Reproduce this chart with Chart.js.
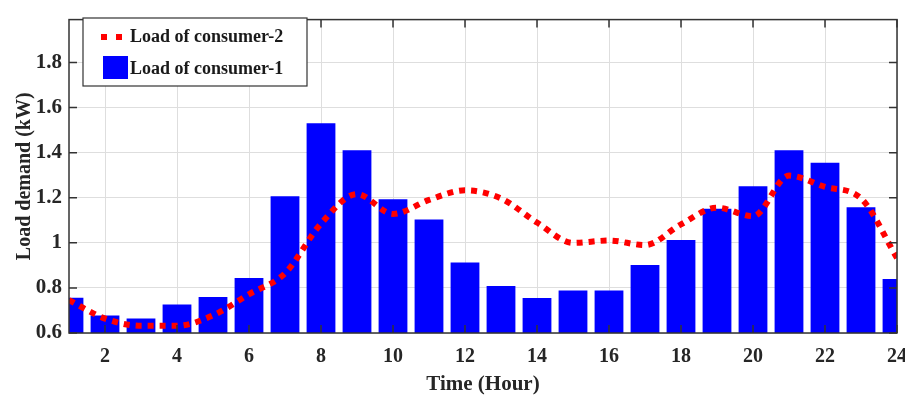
<!DOCTYPE html>
<html>
<head>
<meta charset="utf-8">
<script src="https://cdn.jsdelivr.net/npm/chart.js@4"></script>
<style>
  html, body { margin: 0; padding: 0; background: #fff; }
  #wrap { width: 905px; height: 397px; }
</style>
</head>
<body>
<div id="wrap"><canvas id="loadChart"></canvas></div>
<script>
// hours of the day
const hours = [1, 2, 3, 4, 5, 6, 7, 8, 9, 10, 11, 12, 13, 14, 15, 16, 17, 18, 19, 20, 21, 22, 23, 24];

// bars: load of consumer-1 (kW)
const consumer1 = [0.756, 0.678, 0.664, 0.726, 0.76, 0.844, 1.206, 1.53, 1.41, 1.193, 1.103, 0.913,
  0.809, 0.755, 0.789, 0.789, 0.902, 1.013, 1.151, 1.251, 1.41, 1.355, 1.158, 0.839];

// dotted line: load of consumer-2 (kW)
const consumer2 = [0.746, 0.664, 0.632, 0.632, 0.678, 0.772, 0.865, 1.085, 1.216, 1.128, 1.19, 1.233,
  1.197, 1.09, 1.0, 1.01, 0.99, 1.082, 1.156, 1.118, 1.298, 1.248, 1.197, 0.933];

const xTicks = [2, 4, 6, 8, 10, 12, 14, 16, 18, 20, 22, 24];
const yTicks = [0.6, 0.8, 1.0, 1.2, 1.4, 1.6, 1.8];

const FONT = '"Liberation Serif", "Times New Roman", serif';
const INK = '#262626';

/**
 * Box around the axes, inward ticks and the legend drawn inside the plot
 */
const framePlugin = {
  id: 'frame',
  afterDraw(chart) {
    const { ctx, chartArea: a, scales } = chart;
    ctx.save();
    ctx.strokeStyle = '#333';
    ctx.lineWidth = 1.5;
    ctx.setLineDash([]);
    ctx.beginPath();
    xTicks.forEach(v => {
      const px = scales.x.getPixelForValue(v);
      ctx.moveTo(px, a.top); ctx.lineTo(px, a.top + 8);
      ctx.moveTo(px, a.bottom); ctx.lineTo(px, a.bottom - 8);
    });
    yTicks.forEach(v => {
      const py = scales.y.getPixelForValue(v);
      ctx.moveTo(a.left, py); ctx.lineTo(a.left + 8, py);
      ctx.moveTo(a.right, py); ctx.lineTo(a.right - 8, py);
    });
    ctx.stroke();
    ctx.strokeRect(a.left, a.top, a.right - a.left, a.bottom - a.top);

    // legend box
    const lx = 83, ly = 18, lw = 224, lh = 68;
    ctx.fillStyle = '#fff';
    ctx.fillRect(lx, ly, lw, lh);
    ctx.lineWidth = 1.2;
    ctx.strokeRect(lx, ly, lw, lh);

    ctx.strokeStyle = '#ff0000';
    ctx.lineWidth = 6;
    ctx.setLineDash([6, 9]);
    ctx.beginPath();
    ctx.moveTo(101, 37); ctx.lineTo(124, 37);
    ctx.stroke();
    ctx.setLineDash([]);

    ctx.fillStyle = '#0000ff';
    ctx.fillRect(103, 56, 25, 23);

    ctx.fillStyle = '#1a1a1a';
    ctx.font = 'bold 18px ' + FONT;
    ctx.textBaseline = 'middle';
    ctx.textAlign = 'left';
    ctx.fillText('Load of consumer-2', 130, 37);
    ctx.fillText('Load of consumer-1', 130, 69);
    ctx.restore();
  }
};

document.addEventListener('DOMContentLoaded', () => {
  const ctx = document.getElementById('loadChart').getContext('2d');

  new Chart(ctx, {
    type: 'bar',
    data: {
      datasets: [
        {
          type: 'line',
          label: 'Load of consumer-2',
          data: hours.map((h, i) => ({ x: h, y: consumer2[i] })),
          borderColor: '#ff0000',
          borderWidth: 6,
          borderDash: [6, 6],
          borderCapStyle: 'butt',
          cubicInterpolationMode: 'monotone',
          pointRadius: 0,
          fill: false,
          order: 0
        },
        {
          label: 'Load of consumer-1',
          data: hours.map((h, i) => ({ x: h, y: consumer1[i] })),
          backgroundColor: '#0000ff',
          borderWidth: 0,
          barPercentage: 0.8,
          categoryPercentage: 1,
          order: 1
        }
      ]
    },
    options: {
      responsive: true,
      maintainAspectRatio: false,
      animation: false,
      layout: { padding: { top: 10, right: 8, left: 0, bottom: 0 } },
      plugins: { legend: { display: false }, tooltip: { enabled: false } },
      scales: {
        x: {
          type: 'linear',
          min: 1,
          max: 24,
          offset: false,
          afterBuildTicks: axis => { axis.ticks = xTicks.map(v => ({ value: v })); },
          afterFit: axis => { axis.height = 64; axis.paddingRight = 0; axis.paddingLeft = 0; },
          grid: { color: '#dedede', lineWidth: 1, drawTicks: false, offset: false },
          border: { display: false },
          ticks: { color: INK, padding: 12, font: { family: FONT, size: 20, weight: 'bold' }, maxRotation: 0 },
          title: { display: true, text: 'Time (Hour)', color: INK, padding: { top: 0, bottom: 0 },
            font: { family: FONT, size: 21, weight: 'bold' } }
        },
        y: {
          min: 0.6,
          max: 1.99,
          afterBuildTicks: axis => { axis.ticks = yTicks.map(v => ({ value: v })); },
          afterFit: axis => { axis.width = 69; },
          grid: { color: '#dedede', lineWidth: 1, drawTicks: false },
          border: { display: false },
          ticks: { color: INK, padding: 7, font: { family: FONT, size: 21, weight: 'bold' },
            callback: v => String(Math.round(v * 10) / 10) },
          title: { display: true, text: 'Load demand (kW)', color: INK, padding: { top: 13, bottom: 0 },
            font: { family: FONT, size: 20, weight: 'bold' } }
        }
      }
    },
    plugins: [framePlugin]
  });
});
</script>
</body>
</html>
